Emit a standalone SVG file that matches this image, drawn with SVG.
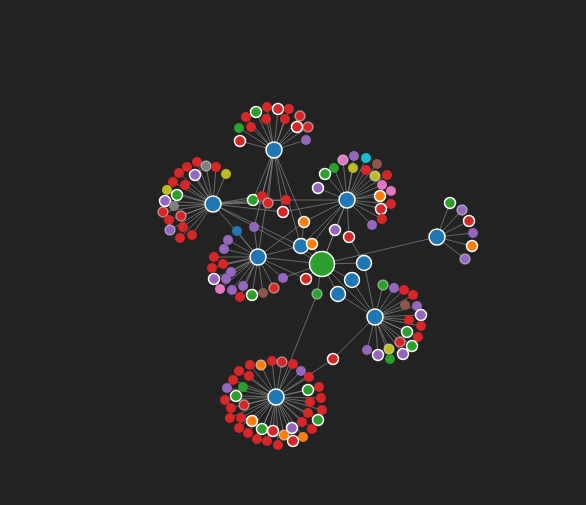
<svg xmlns="http://www.w3.org/2000/svg" width="586" height="505" viewBox="0 0 586 505">
<style>
.l{stroke:#999;stroke-opacity:0.6;stroke-width:1}
.w{stroke:#fff;stroke-width:1.5}
.f{stroke:#fff;stroke-opacity:0.45;stroke-width:1.5}
.bl{fill:#1f77b4}.gr{fill:#2ca02c}.rd{fill:#d62728}.pu{fill:#9467bd}.or{fill:#ff7f0e}
.pk{fill:#e377c2}.gy{fill:#7f7f7f}.ol{fill:#bcbd22}.cy{fill:#17becf}.br{fill:#8c564b}
</style>
<rect width="586" height="505" fill="#222"/>
<g id="links">
<!-- H1 -->
<line class="l" x1="274" y1="150" x2="240" y2="141"/><line class="l" x1="274" y1="150" x2="239" y2="128"/><line class="l" x1="274" y1="150" x2="251" y2="127"/><line class="l" x1="274" y1="150" x2="246" y2="117"/><line class="l" x1="274" y1="150" x2="256" y2="112"/><line class="l" x1="274" y1="150" x2="267" y2="107"/><line class="l" x1="274" y1="150" x2="266" y2="119"/><line class="l" x1="274" y1="150" x2="278" y2="109"/><line class="l" x1="274" y1="150" x2="289" y2="109"/><line class="l" x1="274" y1="150" x2="285" y2="119"/><line class="l" x1="274" y1="150" x2="300" y2="116"/><line class="l" x1="274" y1="150" x2="297" y2="127"/><line class="l" x1="274" y1="150" x2="308" y2="127"/><line class="l" x1="274" y1="150" x2="306" y2="140"/>
<line class="l" x1="274" y1="150" x2="253" y2="200"/><line class="l" x1="274" y1="150" x2="262" y2="196"/><line class="l" x1="274" y1="150" x2="268" y2="203"/><line class="l" x1="274" y1="150" x2="283" y2="212"/><line class="l" x1="274" y1="150" x2="258" y2="257"/><line class="l" x1="274" y1="150" x2="301" y2="246"/><line class="l" x1="274" y1="150" x2="304" y2="222"/><line class="l" x1="274" y1="150" x2="254" y2="227"/>
<!-- H2 -->
<line class="l" x1="213" y1="204" x2="197" y2="162"/><line class="l" x1="213" y1="204" x2="206" y2="166"/><line class="l" x1="213" y1="204" x2="216" y2="167"/><line class="l" x1="213" y1="204" x2="226" y2="174"/><line class="l" x1="213" y1="204" x2="195" y2="175"/><line class="l" x1="213" y1="204" x2="187" y2="167"/><line class="l" x1="213" y1="204" x2="179" y2="173"/><line class="l" x1="213" y1="204" x2="173" y2="182"/><line class="l" x1="213" y1="204" x2="185" y2="185"/><line class="l" x1="213" y1="204" x2="167" y2="190"/><line class="l" x1="213" y1="204" x2="177" y2="195"/><line class="l" x1="213" y1="204" x2="165" y2="201"/><line class="l" x1="213" y1="204" x2="174" y2="206"/><line class="l" x1="213" y1="204" x2="163" y2="212"/><line class="l" x1="213" y1="204" x2="181" y2="216"/><line class="l" x1="213" y1="204" x2="169" y2="220"/><line class="l" x1="213" y1="204" x2="170" y2="230"/><line class="l" x1="213" y1="204" x2="183" y2="227"/><line class="l" x1="213" y1="204" x2="180" y2="238"/><line class="l" x1="213" y1="204" x2="192" y2="235"/>
<line class="l" x1="213" y1="204" x2="253" y2="200"/><line class="l" x1="213" y1="204" x2="262" y2="196"/><line class="l" x1="213" y1="204" x2="268" y2="203"/><line class="l" x1="213" y1="204" x2="286" y2="200"/><line class="l" x1="213" y1="204" x2="283" y2="212"/><line class="l" x1="213" y1="204" x2="258" y2="257"/><line class="l" x1="213" y1="204" x2="301" y2="246"/><line class="l" x1="213" y1="204" x2="322" y2="264"/>
<!-- H3 -->
<line class="l" x1="347" y1="200" x2="343" y2="160"/><line class="l" x1="347" y1="200" x2="354" y2="156"/><line class="l" x1="347" y1="200" x2="366" y2="158"/><line class="l" x1="347" y1="200" x2="377" y2="164"/><line class="l" x1="347" y1="200" x2="334" y2="168"/><line class="l" x1="347" y1="200" x2="353" y2="168"/><line class="l" x1="347" y1="200" x2="366" y2="170"/><line class="l" x1="347" y1="200" x2="375" y2="176"/><line class="l" x1="347" y1="200" x2="387" y2="175"/><line class="l" x1="347" y1="200" x2="325" y2="174"/><line class="l" x1="347" y1="200" x2="382" y2="185"/><line class="l" x1="347" y1="200" x2="391" y2="191"/><line class="l" x1="347" y1="200" x2="318" y2="188"/><line class="l" x1="347" y1="200" x2="380" y2="196"/><line class="l" x1="347" y1="200" x2="391" y2="204"/><line class="l" x1="347" y1="200" x2="381" y2="209"/><line class="l" x1="347" y1="200" x2="382" y2="219"/><line class="l" x1="347" y1="200" x2="372" y2="225"/>
<line class="l" x1="347" y1="200" x2="253" y2="200"/><line class="l" x1="347" y1="200" x2="283" y2="212"/><line class="l" x1="347" y1="200" x2="304" y2="222"/><line class="l" x1="347" y1="200" x2="335" y2="230"/><line class="l" x1="347" y1="200" x2="349" y2="237"/><line class="l" x1="347" y1="200" x2="312" y2="244"/><line class="l" x1="347" y1="200" x2="301" y2="246"/><line class="l" x1="347" y1="200" x2="322" y2="264"/>
<!-- H4 -->
<line class="l" x1="258" y1="257" x2="237" y2="231"/><line class="l" x1="258" y1="257" x2="254" y2="227"/><line class="l" x1="258" y1="257" x2="228" y2="240"/><line class="l" x1="258" y1="257" x2="224" y2="249"/><line class="l" x1="258" y1="257" x2="214" y2="257"/><line class="l" x1="258" y1="257" x2="223" y2="264"/><line class="l" x1="258" y1="257" x2="212" y2="268"/><line class="l" x1="258" y1="257" x2="231" y2="272"/><line class="l" x1="258" y1="257" x2="226" y2="279"/><line class="l" x1="258" y1="257" x2="214" y2="279"/><line class="l" x1="258" y1="257" x2="220" y2="289"/><line class="l" x1="258" y1="257" x2="232" y2="290"/><line class="l" x1="258" y1="257" x2="243" y2="286"/><line class="l" x1="258" y1="257" x2="240" y2="297"/><line class="l" x1="258" y1="257" x2="252" y2="295"/><line class="l" x1="258" y1="257" x2="263" y2="293"/><line class="l" x1="258" y1="257" x2="274" y2="288"/><line class="l" x1="258" y1="257" x2="283" y2="278"/>
<line class="l" x1="258" y1="257" x2="322" y2="264"/><line class="l" x1="258" y1="257" x2="301" y2="246"/><line class="l" x1="258" y1="257" x2="304" y2="222"/><line class="l" x1="258" y1="257" x2="306" y2="279"/>
<!-- H5 -->
<line class="l" x1="437" y1="237" x2="450" y2="203"/><line class="l" x1="437" y1="237" x2="462" y2="210"/><line class="l" x1="437" y1="237" x2="469" y2="221"/><line class="l" x1="437" y1="237" x2="473" y2="233"/><line class="l" x1="437" y1="237" x2="472" y2="246"/><line class="l" x1="437" y1="237" x2="465" y2="259"/><line class="l" x1="437" y1="237" x2="322" y2="264"/>
<!-- H6 -->
<line class="l" x1="375" y1="317" x2="383" y2="285"/><line class="l" x1="375" y1="317" x2="394" y2="288"/><line class="l" x1="375" y1="317" x2="404" y2="290"/><line class="l" x1="375" y1="317" x2="413" y2="295"/><line class="l" x1="375" y1="317" x2="405" y2="305"/><line class="l" x1="375" y1="317" x2="417" y2="306"/><line class="l" x1="375" y1="317" x2="421" y2="315"/><line class="l" x1="375" y1="317" x2="409" y2="320"/><line class="l" x1="375" y1="317" x2="421" y2="326"/><line class="l" x1="375" y1="317" x2="407" y2="332"/><line class="l" x1="375" y1="317" x2="418" y2="337"/><line class="l" x1="375" y1="317" x2="400" y2="342"/><line class="l" x1="375" y1="317" x2="412" y2="346"/><line class="l" x1="375" y1="317" x2="389" y2="349"/><line class="l" x1="375" y1="317" x2="367" y2="350"/><line class="l" x1="375" y1="317" x2="378" y2="355"/><line class="l" x1="375" y1="317" x2="390" y2="359"/><line class="l" x1="375" y1="317" x2="403" y2="354"/>
<line class="l" x1="375" y1="317" x2="333" y2="359"/><line class="l" x1="375" y1="317" x2="338" y2="294"/><line class="l" x1="375" y1="317" x2="352" y2="280"/><line class="l" x1="375" y1="317" x2="322" y2="264"/><line class="l" x1="375" y1="317" x2="364" y2="263"/>
<!-- H7 -->
<line class="l" x1="276" y1="397" x2="272" y2="361"/><line class="l" x1="276" y1="397" x2="282" y2="362"/><line class="l" x1="276" y1="397" x2="293" y2="364"/><line class="l" x1="276" y1="397" x2="261" y2="365"/><line class="l" x1="276" y1="397" x2="250" y2="365"/><line class="l" x1="276" y1="397" x2="301" y2="371"/><line class="l" x1="276" y1="397" x2="239" y2="371"/><line class="l" x1="276" y1="397" x2="249" y2="376"/><line class="l" x1="276" y1="397" x2="309" y2="377"/><line class="l" x1="276" y1="397" x2="233" y2="380"/><line class="l" x1="276" y1="397" x2="243" y2="387"/><line class="l" x1="276" y1="397" x2="227" y2="388"/><line class="l" x1="276" y1="397" x2="319" y2="387"/><line class="l" x1="276" y1="397" x2="308" y2="390"/><line class="l" x1="276" y1="397" x2="236" y2="396"/><line class="l" x1="276" y1="397" x2="321" y2="398"/><line class="l" x1="276" y1="397" x2="225" y2="400"/><line class="l" x1="276" y1="397" x2="310" y2="402"/><line class="l" x1="276" y1="397" x2="244" y2="405"/><line class="l" x1="276" y1="397" x2="231" y2="408"/><line class="l" x1="276" y1="397" x2="322" y2="410"/><line class="l" x1="276" y1="397" x2="308" y2="413"/><line class="l" x1="276" y1="397" x2="230" y2="418"/><line class="l" x1="276" y1="397" x2="241" y2="418"/><line class="l" x1="276" y1="397" x2="252" y2="421"/><line class="l" x1="276" y1="397" x2="302" y2="422"/><line class="l" x1="276" y1="397" x2="318" y2="420"/><line class="l" x1="276" y1="397" x2="312" y2="429"/><line class="l" x1="276" y1="397" x2="239" y2="428"/><line class="l" x1="276" y1="397" x2="262" y2="429"/><line class="l" x1="276" y1="397" x2="273" y2="431"/><line class="l" x1="276" y1="397" x2="292" y2="428"/><line class="l" x1="276" y1="397" x2="248" y2="433"/><line class="l" x1="276" y1="397" x2="284" y2="435"/><line class="l" x1="276" y1="397" x2="303" y2="437"/><line class="l" x1="276" y1="397" x2="257" y2="439"/><line class="l" x1="276" y1="397" x2="267" y2="441"/><line class="l" x1="276" y1="397" x2="278" y2="445"/><line class="l" x1="276" y1="397" x2="293" y2="441"/>
<line class="l" x1="276" y1="397" x2="333" y2="359"/><line class="l" x1="276" y1="397" x2="317" y2="294"/>
<!-- centre -->
<line class="l" x1="322" y1="264" x2="301" y2="246"/><line class="l" x1="322" y1="264" x2="312" y2="244"/><line class="l" x1="322" y1="264" x2="364" y2="263"/><line class="l" x1="322" y1="264" x2="352" y2="280"/><line class="l" x1="322" y1="264" x2="338" y2="294"/><line class="l" x1="322" y1="264" x2="306" y2="279"/><line class="l" x1="322" y1="264" x2="317" y2="294"/><line class="l" x1="322" y1="264" x2="335" y2="230"/><line class="l" x1="322" y1="264" x2="283" y2="278"/><line class="l" x1="364" y1="263" x2="349" y2="237"/><line class="l" x1="301" y1="246" x2="304" y2="222"/>
</g>
<g id="n-h1"><circle class="bl w" cx="274" cy="150" r="8"/></g>
<g id="n-h2"><circle class="bl w" cx="213" cy="204" r="8"/></g>
<g id="n-h3"><circle class="bl w" cx="347" cy="200" r="8"/></g>
<g id="n-h4"><circle class="bl w" cx="258" cy="257" r="8"/></g>
<g id="n-h5"><circle class="bl w" cx="437" cy="237" r="8"/></g>
<g id="n-h6"><circle class="bl w" cx="375" cy="317" r="8"/></g>
<g id="n-h7"><circle class="bl w" cx="276" cy="397" r="8"/></g>
<g id="n-g"><circle class="gr w" cx="322" cy="264" r="12.5"/></g>
<g id="n-b1"><circle class="bl w" cx="301" cy="246" r="7.5"/></g>
<g id="n-b2"><circle class="bl w" cx="364" cy="263" r="7.5"/></g>
<g id="n-b3"><circle class="bl w" cx="352" cy="280" r="7.5"/></g>
<g id="n-b4"><circle class="bl w" cx="338" cy="294" r="7.5"/></g>
<g id="n-b5"><circle class="bl" cx="237" cy="231" r="5"/></g>
<g id="n-s1"><circle class="gr w" cx="253" cy="200" r="5.5"/></g>
<g id="n-s2"><circle class="rd" cx="262" cy="196" r="5"/></g>
<g id="n-s3"><circle class="rd f" cx="268" cy="203" r="5"/></g>
<g id="n-s4"><circle class="rd" cx="286" cy="200" r="5"/></g>
<g id="n-s5"><circle class="rd w" cx="283" cy="212" r="5.5"/></g>
<g id="n-s6"><circle class="or w" cx="304" cy="222" r="5.5"/></g>
<g id="n-s7"><circle class="pu" cx="254" cy="227" r="5"/></g>
<g id="n-s8"><circle class="pu w" cx="335" cy="230" r="5.5"/></g>
<g id="n-s9"><circle class="rd w" cx="349" cy="237" r="5.5"/></g>
<g id="n-s10"><circle class="or w" cx="312" cy="244" r="5.5"/></g>
<g id="n-s11"><circle class="rd w" cx="306" cy="279" r="5.5"/></g>
<g id="n-s12"><circle class="gr f" cx="317" cy="294" r="5"/></g>
<g id="n-s13"><circle class="pu" cx="283" cy="278" r="5"/></g>
<g id="n-s14"><circle class="rd w" cx="333" cy="359" r="5.5"/></g>
<!-- cluster 1 -->
<g id="n-a1"><circle class="rd w" cx="240" cy="141" r="5.5"/></g>
<g id="n-a2"><circle class="gr" cx="239" cy="128" r="5"/></g>
<g id="n-a3"><circle class="rd" cx="251" cy="127" r="5"/></g>
<g id="n-a4"><circle class="rd" cx="246" cy="117" r="5"/></g>
<g id="n-a5"><circle class="gr w" cx="256" cy="112" r="5.5"/></g>
<g id="n-a6"><circle class="rd" cx="267" cy="107" r="5"/></g>
<g id="n-a7"><circle class="rd" cx="266" cy="119" r="5"/></g>
<g id="n-a8"><circle class="rd w" cx="278" cy="109" r="5.5"/></g>
<g id="n-a9"><circle class="rd" cx="289" cy="109" r="5"/></g>
<g id="n-a10"><circle class="rd" cx="285" cy="119" r="5"/></g>
<g id="n-a11"><circle class="rd f" cx="300" cy="116" r="5"/></g>
<g id="n-a12"><circle class="rd w" cx="297" cy="127" r="5.5"/></g>
<g id="n-a13"><circle class="rd f" cx="308" cy="127" r="5"/></g>
<g id="n-a14"><circle class="pu" cx="306" cy="140" r="5"/></g>
<!-- cluster 2 -->
<g id="n-c1"><circle class="rd" cx="197" cy="162" r="5"/></g>
<g id="n-c2"><circle class="gy f" cx="206" cy="166" r="5"/></g>
<g id="n-c3"><circle class="rd" cx="216" cy="167" r="5"/></g>
<g id="n-c4"><circle class="ol" cx="226" cy="174" r="5"/></g>
<g id="n-c5"><circle class="pu w" cx="195" cy="175" r="5.5"/></g>
<g id="n-c6"><circle class="rd" cx="187" cy="167" r="5"/></g>
<g id="n-c7"><circle class="rd" cx="179" cy="173" r="5"/></g>
<g id="n-c8"><circle class="rd" cx="173" cy="182" r="5"/></g>
<g id="n-c9"><circle class="rd" cx="185" cy="185" r="5"/></g>
<g id="n-c10"><circle class="ol" cx="167" cy="190" r="5"/></g>
<g id="n-c11"><circle class="gr w" cx="177" cy="195" r="5.5"/></g>
<g id="n-c12"><circle class="pu w" cx="165" cy="201" r="5.5"/></g>
<g id="n-c13"><circle class="gy" cx="174" cy="206" r="5"/></g>
<g id="n-c14"><circle class="rd f" cx="163" cy="212" r="5"/></g>
<g id="n-c15"><circle class="rd f" cx="181" cy="216" r="5"/></g>
<g id="n-c16"><circle class="rd" cx="169" cy="220" r="5"/></g>
<g id="n-c17"><circle class="pu f" cx="170" cy="230" r="5"/></g>
<g id="n-c18"><circle class="rd" cx="183" cy="227" r="5"/></g>
<g id="n-c19"><circle class="rd" cx="180" cy="238" r="5"/></g>
<g id="n-c20"><circle class="rd" cx="192" cy="235" r="5"/></g>
<!-- cluster 3 -->
<g id="n-d1"><circle class="pk f" cx="343" cy="160" r="5"/></g>
<g id="n-d2"><circle class="pu" cx="354" cy="156" r="5"/></g>
<g id="n-d3"><circle class="cy" cx="366" cy="158" r="5"/></g>
<g id="n-d4"><circle class="br" cx="377" cy="164" r="5"/></g>
<g id="n-d5"><circle class="gr" cx="334" cy="168" r="5"/></g>
<g id="n-d6"><circle class="ol" cx="353" cy="168" r="5"/></g>
<g id="n-d7"><circle class="rd" cx="366" cy="170" r="5"/></g>
<g id="n-d8"><circle class="ol f" cx="375" cy="176" r="5"/></g>
<g id="n-d9"><circle class="rd" cx="387" cy="175" r="5"/></g>
<g id="n-d10"><circle class="gr w" cx="325" cy="174" r="5.5"/></g>
<g id="n-d11"><circle class="pk" cx="382" cy="185" r="5"/></g>
<g id="n-d12"><circle class="pk" cx="391" cy="191" r="5"/></g>
<g id="n-d13"><circle class="pu w" cx="318" cy="188" r="5.5"/></g>
<g id="n-d14"><circle class="or w" cx="380" cy="196" r="5.5"/></g>
<g id="n-d15"><circle class="rd" cx="391" cy="204" r="5"/></g>
<g id="n-d16"><circle class="rd w" cx="381" cy="209" r="5.5"/></g>
<g id="n-d17"><circle class="rd" cx="382" cy="219" r="5"/></g>
<g id="n-d18"><circle class="pu" cx="372" cy="225" r="5"/></g>
<!-- cluster 4 -->
<g id="n-e1"><circle class="pu" cx="228" cy="240" r="5"/></g>
<g id="n-e2"><circle class="pu" cx="224" cy="249" r="5"/></g>
<g id="n-e3"><circle class="rd" cx="214" cy="257" r="5"/></g>
<g id="n-e4"><circle class="rd" cx="223" cy="264" r="5"/></g>
<g id="n-e5"><circle class="rd" cx="212" cy="268" r="5"/></g>
<g id="n-e6"><circle class="pu" cx="231" cy="272" r="5"/></g>
<g id="n-e7"><circle class="pu" cx="226" cy="279" r="5"/></g>
<g id="n-e8"><circle class="pu w" cx="214" cy="279" r="5.5"/></g>
<g id="n-e9"><circle class="pk" cx="220" cy="289" r="5"/></g>
<g id="n-e10"><circle class="pu" cx="232" cy="290" r="5"/></g>
<g id="n-e11"><circle class="pu" cx="243" cy="286" r="5"/></g>
<g id="n-e12"><circle class="rd" cx="240" cy="297" r="5"/></g>
<g id="n-e13"><circle class="gr w" cx="252" cy="295" r="5.5"/></g>
<g id="n-e14"><circle class="br" cx="263" cy="293" r="5"/></g>
<g id="n-e15"><circle class="rd f" cx="274" cy="288" r="5"/></g>
<!-- cluster 5 -->
<g id="n-f1"><circle class="gr w" cx="450" cy="203" r="5.5"/></g>
<g id="n-f2"><circle class="pu f" cx="462" cy="210" r="5"/></g>
<g id="n-f3"><circle class="rd w" cx="469" cy="221" r="5.5"/></g>
<g id="n-f4"><circle class="pu" cx="473" cy="233" r="5"/></g>
<g id="n-f5"><circle class="or w" cx="472" cy="246" r="5.5"/></g>
<g id="n-f6"><circle class="pu f" cx="465" cy="259" r="5"/></g>
<!-- cluster 6 -->
<g id="n-k1"><circle class="gr f" cx="383" cy="285" r="5"/></g>
<g id="n-k2"><circle class="pu" cx="394" cy="288" r="5"/></g>
<g id="n-k3"><circle class="rd" cx="404" cy="290" r="5"/></g>
<g id="n-k4"><circle class="rd" cx="413" cy="295" r="5"/></g>
<g id="n-k5"><circle class="br" cx="405" cy="305" r="5"/></g>
<g id="n-k6"><circle class="pu" cx="417" cy="306" r="5"/></g>
<g id="n-k7"><circle class="pu w" cx="421" cy="315" r="5.5"/></g>
<g id="n-k8"><circle class="rd" cx="409" cy="320" r="5"/></g>
<g id="n-k9"><circle class="rd" cx="421" cy="326" r="5"/></g>
<g id="n-k10"><circle class="gr w" cx="407" cy="332" r="5.5"/></g>
<g id="n-k11"><circle class="rd" cx="418" cy="337" r="5"/></g>
<g id="n-k12"><circle class="rd f" cx="400" cy="342" r="5"/></g>
<g id="n-k13"><circle class="gr w" cx="412" cy="346" r="5.5"/></g>
<g id="n-k14"><circle class="ol f" cx="389" cy="349" r="5"/></g>
<g id="n-k15"><circle class="pu" cx="367" cy="350" r="5"/></g>
<g id="n-k16"><circle class="pu w" cx="378" cy="355" r="5.5"/></g>
<g id="n-k17"><circle class="gr" cx="390" cy="359" r="5"/></g>
<g id="n-k18"><circle class="pu w" cx="403" cy="354" r="5.5"/></g>
<!-- cluster 7 -->
<g id="n-m1"><circle class="rd" cx="272" cy="361" r="5"/></g>
<g id="n-m2"><circle class="rd f" cx="282" cy="362" r="5"/></g>
<g id="n-m3"><circle class="rd" cx="293" cy="364" r="5"/></g>
<g id="n-m4"><circle class="or f" cx="261" cy="365" r="5"/></g>
<g id="n-m5"><circle class="rd" cx="250" cy="365" r="5"/></g>
<g id="n-m6"><circle class="pu" cx="301" cy="371" r="5"/></g>
<g id="n-m7"><circle class="rd" cx="239" cy="371" r="5"/></g>
<g id="n-m8"><circle class="rd" cx="249" cy="376" r="5"/></g>
<g id="n-m9"><circle class="rd" cx="309" cy="377" r="5"/></g>
<g id="n-m10"><circle class="rd" cx="233" cy="380" r="5"/></g>
<g id="n-m11"><circle class="gr" cx="243" cy="387" r="5"/></g>
<g id="n-m12"><circle class="pu" cx="227" cy="388" r="5"/></g>
<g id="n-m13"><circle class="rd" cx="319" cy="387" r="5"/></g>
<g id="n-m14"><circle class="gr w" cx="308" cy="390" r="5.5"/></g>
<g id="n-m15"><circle class="gr w" cx="236" cy="396" r="5.5"/></g>
<g id="n-m16"><circle class="rd" cx="321" cy="398" r="5"/></g>
<g id="n-m17"><circle class="rd" cx="225" cy="400" r="5"/></g>
<g id="n-m18"><circle class="rd" cx="310" cy="402" r="5"/></g>
<g id="n-m19"><circle class="rd f" cx="244" cy="405" r="5"/></g>
<g id="n-m20"><circle class="rd" cx="231" cy="408" r="5"/></g>
<g id="n-m21"><circle class="rd" cx="322" cy="410" r="5"/></g>
<g id="n-m22"><circle class="rd" cx="308" cy="413" r="5"/></g>
<g id="n-m23"><circle class="rd" cx="230" cy="418" r="5"/></g>
<g id="n-m24"><circle class="rd" cx="241" cy="418" r="5"/></g>
<g id="n-m25"><circle class="or w" cx="252" cy="421" r="5.5"/></g>
<g id="n-m26"><circle class="rd" cx="302" cy="422" r="5"/></g>
<g id="n-m27"><circle class="gr w" cx="318" cy="420" r="5.5"/></g>
<g id="n-m28"><circle class="rd" cx="312" cy="429" r="5"/></g>
<g id="n-m29"><circle class="rd" cx="239" cy="428" r="5"/></g>
<g id="n-m30"><circle class="gr w" cx="262" cy="429" r="5.5"/></g>
<g id="n-m31"><circle class="rd w" cx="273" cy="431" r="5.5"/></g>
<g id="n-m32"><circle class="pu w" cx="292" cy="428" r="5.5"/></g>
<g id="n-m33"><circle class="rd" cx="248" cy="433" r="5"/></g>
<g id="n-m34"><circle class="or f" cx="284" cy="435" r="5"/></g>
<g id="n-m35"><circle class="or" cx="303" cy="437" r="5"/></g>
<g id="n-m36"><circle class="rd" cx="257" cy="439" r="5"/></g>
<g id="n-m37"><circle class="rd" cx="267" cy="441" r="5"/></g>
<g id="n-m38"><circle class="rd" cx="278" cy="445" r="5"/></g>
<g id="n-m39"><circle class="rd w" cx="293" cy="441" r="5.5"/></g>
</svg>
